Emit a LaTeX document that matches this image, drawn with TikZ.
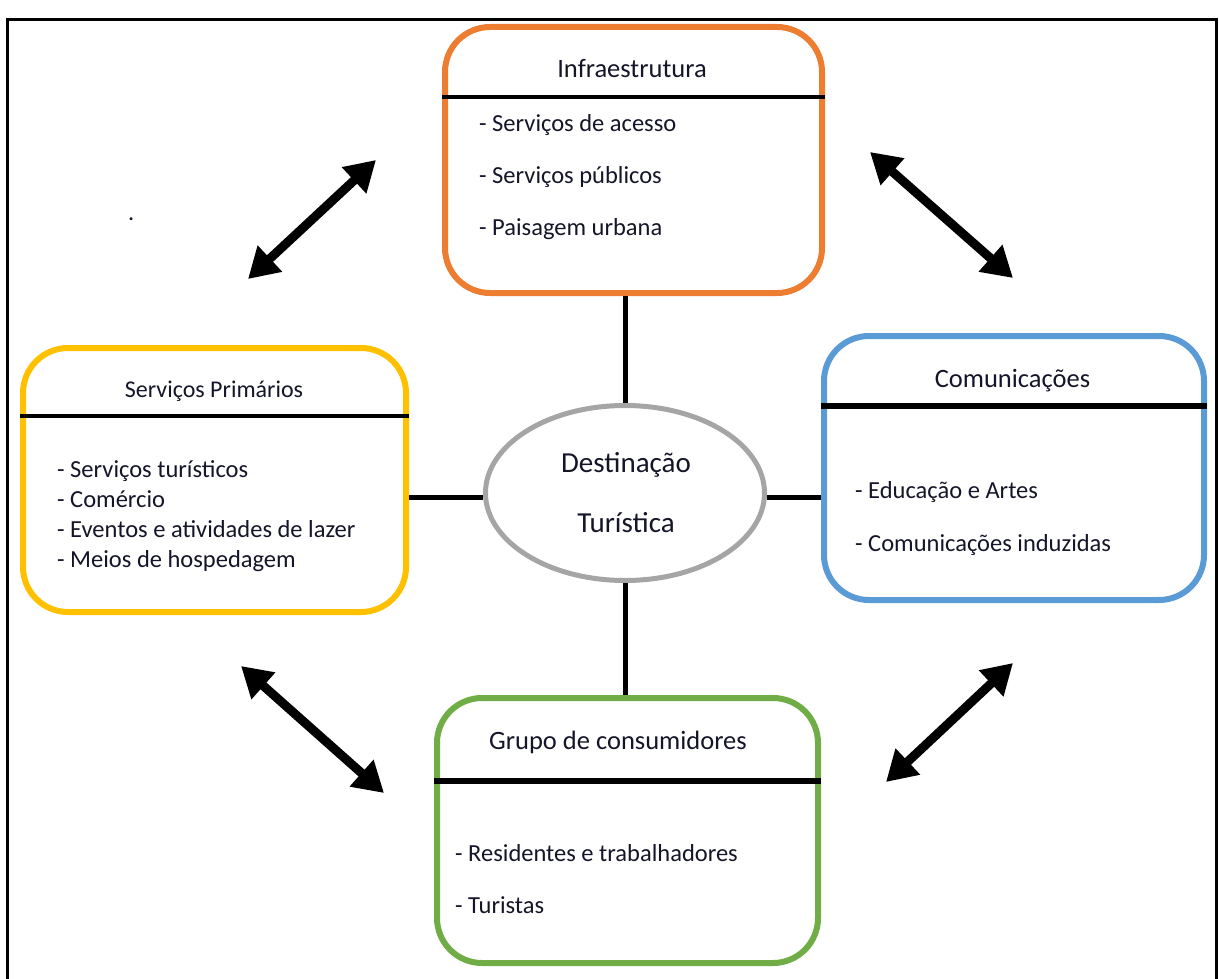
\documentclass[tikz,border=0pt]{standalone}
\usepackage{fontspec}
\setmainfont{Carlito}
\usetikzlibrary{arrows.meta,shapes.geometric}
\definecolor{cOrange}{HTML}{ED7D31}
\definecolor{cYellow}{HTML}{FFC000}
\definecolor{cBlue}{HTML}{5B9BD5}
\definecolor{cGreen}{HTML}{70AD47}
\definecolor{cGray}{HTML}{A5A5A5}
\definecolor{cText}{HTML}{15152A}
\begin{document}
\begin{tikzpicture}[x=1pt,y=-1pt,
  box/.style={draw, line width=6pt, rounded corners=45pt, inner sep=0pt, rectangle},
  hdr/.style={line width=4pt},
  hdrthick/.style={line width=6pt},
  ttl/.style={font=\fontsize{26.5}{30}\selectfont, anchor=base, text=cText, inner sep=0pt},
  itm/.style={font=\fontsize{24.5}{28}\selectfont, anchor=base west, text=cText, inner sep=0pt},
  link/.style={line width=5pt},
  dbl/.style={line width=9pt, {Triangle[length=30pt,width=34pt]}-{Triangle[length=30pt,width=34pt]}}
]
\useasboundingbox (0,0) rectangle (1219,979);
% frame (open at the bottom)
\coordinate (fbl) at (7.5,990);
\coordinate (ftl) at (7.5,19.5);
\coordinate (ftr) at (1216.5,19.5);
\coordinate (fbr) at (1216.5,990);
\draw[line width=2.5pt] (fbl) -- (ftl) -- (ftr) -- (fbr);

% boxes
\node[box, draw=cOrange, minimum width=377pt, minimum height=266pt] (infra) at (633.5,160) {};
\node[box, draw=cYellow, minimum width=383pt, minimum height=264pt] (prim) at (214.5,480) {};
\node[box, draw=cBlue, minimum width=380pt, minimum height=264pt] (comm) at (1014,468) {};
\node[box, draw=cGreen, minimum width=381pt, minimum height=265pt] (cons) at (627.5,830.5) {};
\node[ellipse, draw=cGray, line width=5pt, minimum width=279pt, minimum height=175pt, inner sep=0pt] (dest) at (625,493) {};

% header lines
\draw[hdr] (infra.west |- 0,97) -- (infra.east |- 0,97);
\draw[hdr] (prim.west |- 0,416) -- (prim.east |- 0,416);
\draw[hdrthick] (comm.west |- 0,406) -- (comm.east |- 0,406);
\draw[hdrthick] (cons.west |- 0,781) -- (cons.east |- 0,781);

% titles
\node[ttl] (tinfra) at (632,78) {Infraestrutura};
\node[ttl, font=\fontsize{24}{28}\selectfont] (tprim) at (214,397) {Serviços Primários};
\node[ttl] (tcomm) at (1012.5,387) {Comunicações};
\node[ttl] (tcons) at (618,749) {Grupo de consumidores};

% items
\node[itm] (i1) at (479,132) {- Serviços de acesso};
\node[itm] (i2) at (479,184) {- Serviços públicos};
\node[itm] (i3) at (479,236) {- Paisagem urbana};

\node[itm] (p1) at (57,477) {- Serviços turísticos};
\node[itm] (p2) at (57,507) {- Comércio};
\node[itm] (p3) at (57,537) {- Eventos e atividades de lazer};
\node[itm] (p4) at (57,567) {- Meios de hospedagem};

\node[itm] (c1) at (855,498) {- Educação e Artes};
\node[itm] (c2) at (855,551) {- Comunicações induzidas};

\node[itm] (g1) at (455,861) {- Residentes e trabalhadores};
\node[itm] (g2) at (455,913) {- Turistas};

% centre text
\node[ttl, font=\fontsize{29}{32}\selectfont] (d1) at (626,472) {Destinação};
\node[ttl, font=\fontsize{29}{32}\selectfont] (d2) at (626,532) {Turística};

% stray dot
\node[itm] (dot) at (128,220) {.};

% connectors
\draw[link] (dest.north) -- (dest.north |- infra.south);
\draw[link] (dest.south) -- (dest.south |- cons.north);
\draw[link] ([yshift=-4pt]dest.west) -- ([yshift=-4pt]dest.west -| prim.east);
\draw[link] ([yshift=-4pt]dest.east) -- ([yshift=-4pt]dest.east -| comm.west);

% double arrows
\coordinate (a1s) at (248,279);
\coordinate (a1e) at (376,160);
\coordinate (a2s) at (870,152);
\coordinate (a2e) at (1013,278);
\coordinate (a3s) at (241,666);
\coordinate (a3e) at (384,793);
\coordinate (a4s) at (1013,663);
\coordinate (a4e) at (886,782);
\draw[dbl] (a1s) -- (a1e);
\draw[dbl] (a2s) -- (a2e);
\draw[dbl] (a3s) -- (a3e);
\draw[dbl] (a4s) -- (a4e);
\end{tikzpicture}
\end{document}
